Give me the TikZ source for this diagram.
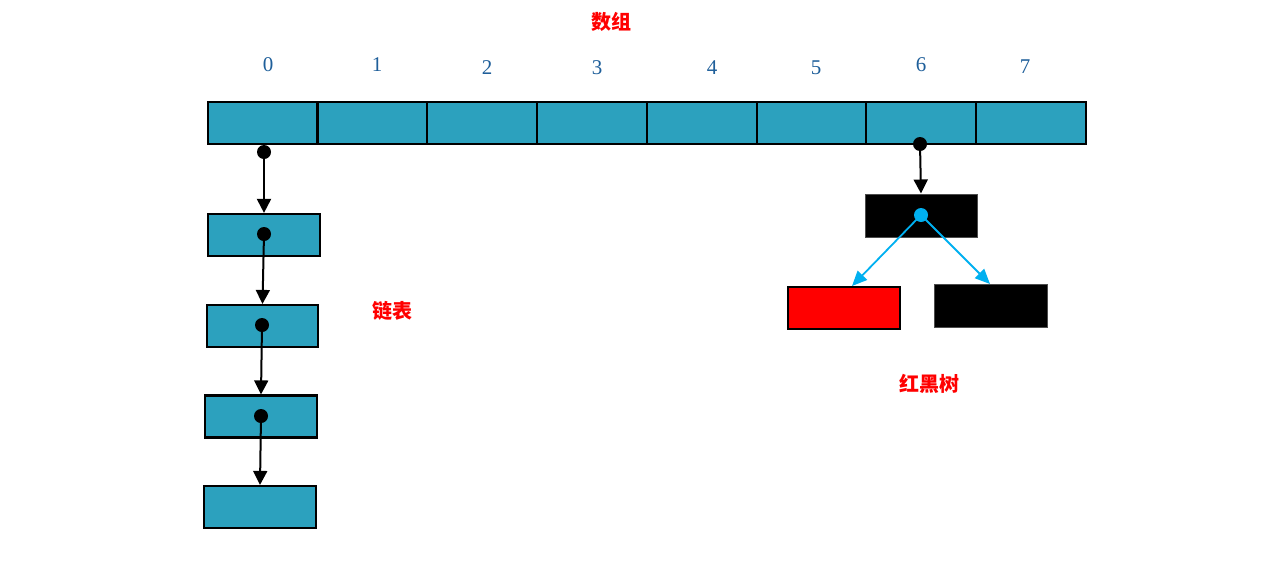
\documentclass[tikz,border=0pt]{standalone}
\usepackage{fontspec}
\setmainfont{Liberation Serif}
\newfontfamily\cjk{Noto Sans CJK SC}
\usetikzlibrary{arrows.meta}
\definecolor{cellblue}{HTML}{2CA1BE}
\definecolor{numblue}{HTML}{1F5F9A}
\definecolor{treecyan}{HTML}{00B0F0}
\begin{document}
\begin{tikzpicture}[x=1pt,y=-1pt,
  cell/.style={draw=black,line width=2.2pt,fill=cellblue,minimum width=110pt,minimum height=42pt,inner sep=0pt},
  blackbox/.style={draw=black!70,line width=1pt,fill=black,minimum width=112pt,minimum height=43pt,inner sep=0pt},
  redbox/.style={draw=black,line width=2.2pt,fill=red,minimum width=112pt,minimum height=42pt,inner sep=0pt},
  dot/.style={circle,fill=black,minimum size=14pt,inner sep=0pt},
  cdot/.style={circle,fill=treecyan,minimum size=14pt,inner sep=0pt},
  idx/.style={text=numblue,font=\fontsize{21}{25}\selectfont},
  lbl/.style={text=red,font=\cjk\bfseries\fontsize{20}{24}\selectfont},
  link/.style={line width=2pt,-{Triangle[length=14pt,width=14pt]}},
  tlink/.style={line width=1.8pt,treecyan,-{Triangle[length=15pt,width=13pt]}}
]
\useasboundingbox (0,0) rectangle (1276,568);
% array
\node[cell] (a0) at (263,123) {};
\node[cell] (a1) at (372.5,123) {};
\node[cell] (a2) at (482,123) {};
\node[cell] (a3) at (592,123) {};
\node[cell] (a4) at (702,123) {};
\node[cell,minimum width=109pt] (a5) at (811.5,123) {};
\node[cell] (a6) at (921,123) {};
\node[cell] (a7) at (1031,123) {};
% indices
\node[idx] (i0) at (268,65) {0};
\node[idx] (i1) at (377,65) {1};
\node[idx] (i2) at (487,68) {2};
\node[idx] (i3) at (597,68) {3};
\node[idx] (i4) at (712,68) {4};
\node[idx] (i5) at (816,68) {5};
\node[idx] (i6) at (921,65) {6};
\node[idx] (i7) at (1025,67) {7};
% labels
\node[lbl] (t1) at (611,22) {数组};
\node[lbl] (t2) at (392,311) {链表};
\node[lbl] (t3) at (929,384) {红黑树};
% linked list
\node[cell,minimum width=112pt] (l1) at (264,235) {};
\node[cell,minimum width=111pt] (l2) at (262.5,326) {};
\node[cell,minimum width=112pt] (l3) at (261,416.5) {};
\node[cell,minimum width=112pt] (l4) at (260,507) {};
\node[dot] (d0) at (264,152) {};
\node[dot] (d1) at (264,234) {};
\node[dot] (d2) at (262,325) {};
\node[dot] (d3) at (261,416) {};
\draw[link] (d0.center) -- (l1.north);
\draw[link] (d1.center) -- (l2.north);
\draw[link] (d2.center) -- (l3.north);
\draw[link] (d3.center) -- (l4.north);
% tree
\node[blackbox] (r0) at (921,215.5) {};
\node[redbox] (r1) at (844,308) {};
\node[blackbox,minimum width=113pt] (r2) at (990.5,305.5) {};
\node[dot] (d6) at (920,144) {};
\node[cdot] (c0) at (921,215) {};
\draw[link] (d6.center) -- (r0.north);
\draw[tlink] (c0.center) -- (852,286);
\draw[tlink] (c0.center) -- (990,284);
\end{tikzpicture}
\end{document}
